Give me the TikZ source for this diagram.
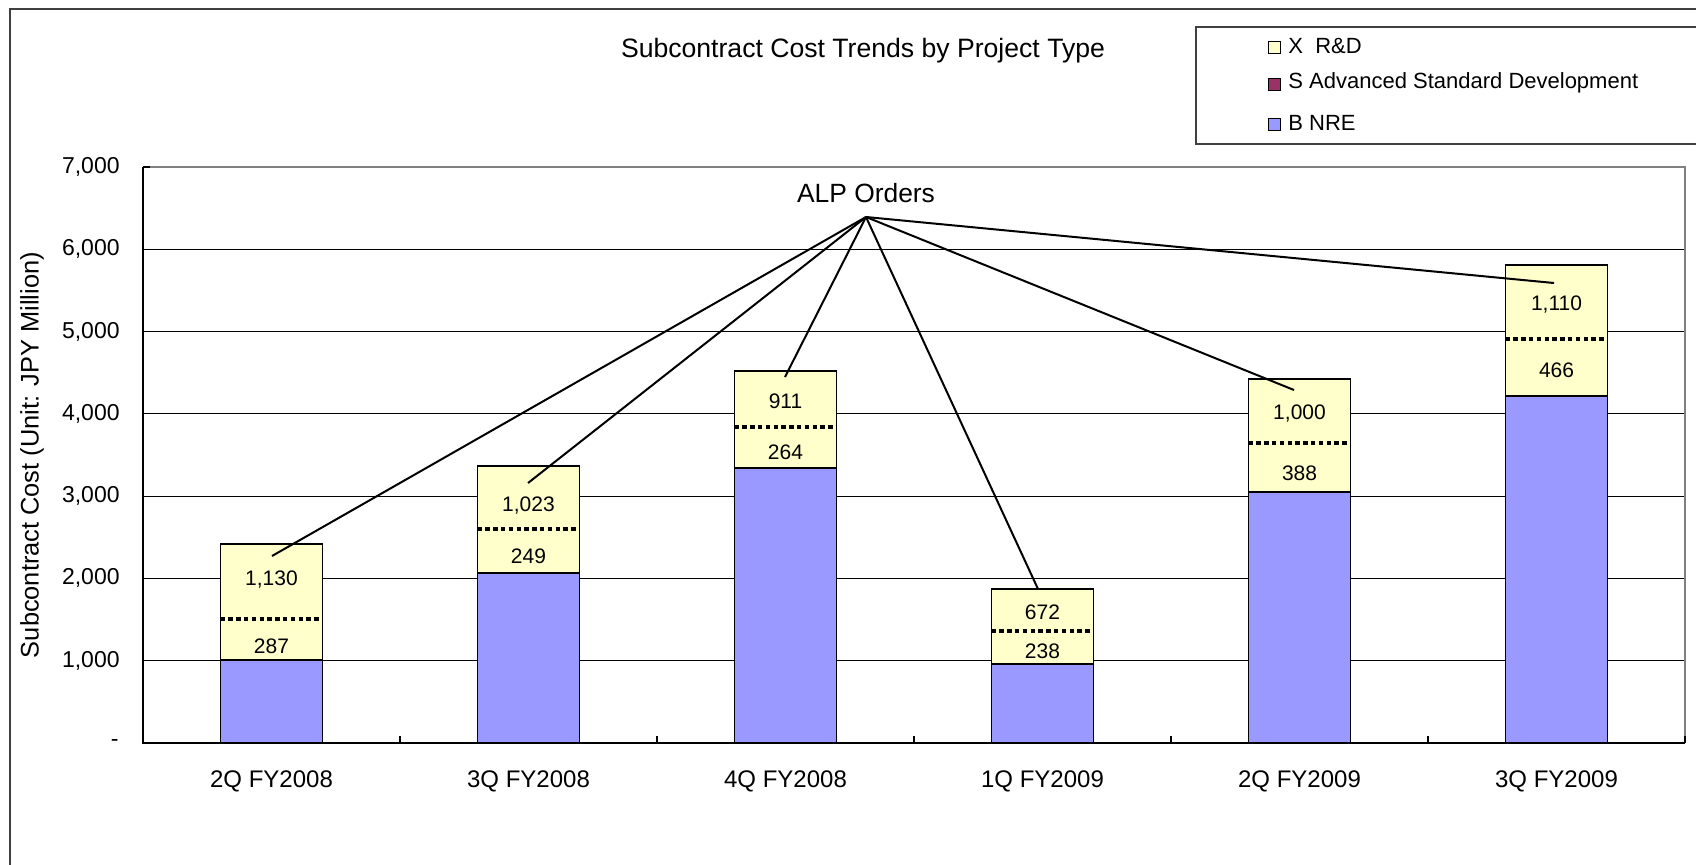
\documentclass[tikz,border=0pt]{standalone}
\usepackage{fontspec}
\setmainfont{Liberation Sans}
\usetikzlibrary{positioning}
\definecolor{nreblue}{HTML}{9999FF}
\definecolor{rdyellow}{HTML}{FFFFCC}
\definecolor{stdpurple}{HTML}{993366}
\definecolor{framegray}{HTML}{808080}
\definecolor{boxgray}{HTML}{404040}
\tikzset{
  nrebar/.style={draw=black, line width=0.75pt, fill=nreblue},
  rdbar/.style={draw=black, line width=0.75pt, fill=rdyellow},
  splitline/.style={line width=2.4pt, dash pattern=on 2.2pt off 1.7pt},
  gridline/.style={line width=0.5pt, draw=black},
  alpline/.style={line width=1pt, draw=black},
  barlabel/.style={font=\fontsize{10.5}{12}\selectfont, inner sep=0pt},
  ticklabel/.style={font=\fontsize{11.5}{13}\selectfont, anchor=east, inner sep=0pt},
  catlabel/.style={font=\fontsize{12}{14}\selectfont, inner sep=0pt},
  legendkey/.style={draw=black, line width=0.5pt, minimum size=6pt, inner sep=0pt},
  legendtext/.style={font=\fontsize{11}{13}\selectfont, anchor=west, inner sep=0pt}
}
\begin{document}
\begin{tikzpicture}[x=0.5pt, y=-0.5pt]
  \useasboundingbox (0,0) rectangle (1696,864);
  \clip (0,0) rectangle (1696,864);

  % outer frame and legend box (they run past the page)
  \draw[line width=1pt, draw=boxgray] (10,900) -- (10,9) -- (1720,9);
  \draw[line width=0.6pt, draw=boxgray] (1720,27) -- (1196,27) -- (1196,144) -- (1720,144);

  \node (title) [font=\fontsize{13.3}{15}\selectfont] at (863,51) {Subcontract Cost Trends by Project Type};

  % legend
  \node (keyx) [legendkey, fill=rdyellow] at (1274,47) {};
  \node (keys) [legendkey, fill=stdpurple] at (1274,84) {};
  \node (keyb) [legendkey, fill=nreblue] at (1274,124) {};
  \node (legx) [legendtext] at (1288,46) {X\ \ R\&D};
  \node (legs) [legendtext] at (1288,83) {S Advanced Standard Development};
  \node (legb) [legendtext] at (1288,123) {B NRE};

  % grid
  \draw[gridline] (143,660.7) -- (1685,660.7);
  \draw[gridline] (143,578.4) -- (1685,578.4);
  \draw[gridline] (143,496.1) -- (1685,496.1);
  \draw[gridline] (143,413.8) -- (1685,413.8);
  \draw[gridline] (143,331.5) -- (1685,331.5);
  \draw[gridline] (143,249.3) -- (1685,249.3);
  \draw[line width=0.6pt, draw=framegray] (143,167) -- (1685,167) -- (1685,743);

  % bars: NRE at the bottom, R&D on top, dotted split inside
  \draw[nrebar] (220.5,743) rectangle (322.5,660);
  \draw[rdbar] (220.5,660) rectangle (322.5,544);
  \draw[splitline] (220.5,619) -- (322.5,619);
  \draw[nrebar] (477.5,743) rectangle (579.5,573);
  \draw[rdbar] (477.5,573) rectangle (579.5,466);
  \draw[splitline] (477.5,529) -- (579.5,529);
  \draw[nrebar] (734.5,743) rectangle (836.5,468);
  \draw[rdbar] (734.5,468) rectangle (836.5,371);
  \draw[splitline] (734.5,427) -- (836.5,427);
  \draw[nrebar] (991.5,743) rectangle (1093.5,664);
  \draw[rdbar] (991.5,664) rectangle (1093.5,589);
  \draw[splitline] (991.5,631) -- (1093.5,631);
  \draw[nrebar] (1248.5,743) rectangle (1350.5,492);
  \draw[rdbar] (1248.5,492) rectangle (1350.5,379);
  \draw[splitline] (1248.5,443) -- (1350.5,443);
  \draw[nrebar] (1505.5,743) rectangle (1607.5,396);
  \draw[rdbar] (1505.5,396) rectangle (1607.5,265);
  \draw[splitline] (1505.5,339) -- (1607.5,339);

  \node (up1) [barlabel] at (271.5,579) {1,130};
  \node (lo1) [barlabel] at (271.5,646) {287};
  \node (up2) [barlabel] at (528.5,505) {1,023};
  \node (lo2) [barlabel] at (528.5,556) {249};
  \node (up3) [barlabel] at (785.5,401) {911};
  \node (lo3) [barlabel] at (785.5,452) {264};
  \node (up4) [barlabel] at (1042.5,612) {672};
  \node (lo4) [barlabel] at (1042.5,651) {238};
  \node (up5) [barlabel] at (1299.5,413) {1,000};
  \node (lo5) [barlabel] at (1299.5,473) {388};
  \node (up6) [barlabel] at (1556.5,304) {1,110};
  \node (lo6) [barlabel] at (1556.5,370) {466};

  % axes and ticks
  \draw[line width=0.75pt] (143,167) -- (143,743) -- (1685,743);
  \draw[line width=0.75pt] (143,167) -- (150,167);
  \draw[line width=0.75pt] (400,743) -- (400,736);
  \draw[line width=0.75pt] (657,743) -- (657,736);
  \draw[line width=0.75pt] (914,743) -- (914,736);
  \draw[line width=0.75pt] (1171,743) -- (1171,736);
  \draw[line width=0.75pt] (1428,743) -- (1428,736);
  \draw[line width=0.75pt] (1685,743) -- (1685,736);

  \node (t7) [ticklabel] at (120,167) {7,000};
  \node (t6) [ticklabel] at (120,249.3) {6,000};
  \node (t5) [ticklabel] at (120,331.5) {5,000};
  \node (t4) [ticklabel] at (120,413.8) {4,000};
  \node (t3) [ticklabel] at (120,496.1) {3,000};
  \node (t2) [ticklabel] at (120,578.4) {2,000};
  \node (t1) [ticklabel] at (120,660.7) {1,000};
  \node (t0) [ticklabel] at (119,743) {-};
  \node (ytitle) [font=\fontsize{12.7}{14}\selectfont, rotate=90] at (32,455) {Subcontract Cost (Unit: JPY Million)};

  \node (q1) [catlabel] at (271.5,781) {2Q FY2008};
  \node (q2) [catlabel] at (528.5,781) {3Q FY2008};
  \node (q3) [catlabel] at (785.5,781) {4Q FY2008};
  \node (q4) [catlabel] at (1042.5,781) {1Q FY2009};
  \node (q5) [catlabel] at (1299.5,781) {2Q FY2009};
  \node (q6) [catlabel] at (1556.5,781) {3Q FY2009};

  % ALP orders callout
  \node (alp) [font=\fontsize{13.2}{15}\selectfont] at (866,193) {ALP Orders};
  \coordinate (hub) at (866,217);
  \coordinate (end1) at (272,556);
  \coordinate (end2) at (528,483);
  \coordinate (end3) at (785,377);
  \coordinate (end4) at (1038,589);
  \coordinate (end5) at (1294,390);
  \coordinate (end6) at (1554,283);
  \draw[alpline] (hub) -- (end1);
  \draw[alpline] (hub) -- (end2);
  \draw[alpline] (hub) -- (end3);
  \draw[alpline] (hub) -- (end4);
  \draw[alpline] (hub) -- (end5);
  \draw[alpline] (hub) -- (end6);
\end{tikzpicture}
\end{document}
